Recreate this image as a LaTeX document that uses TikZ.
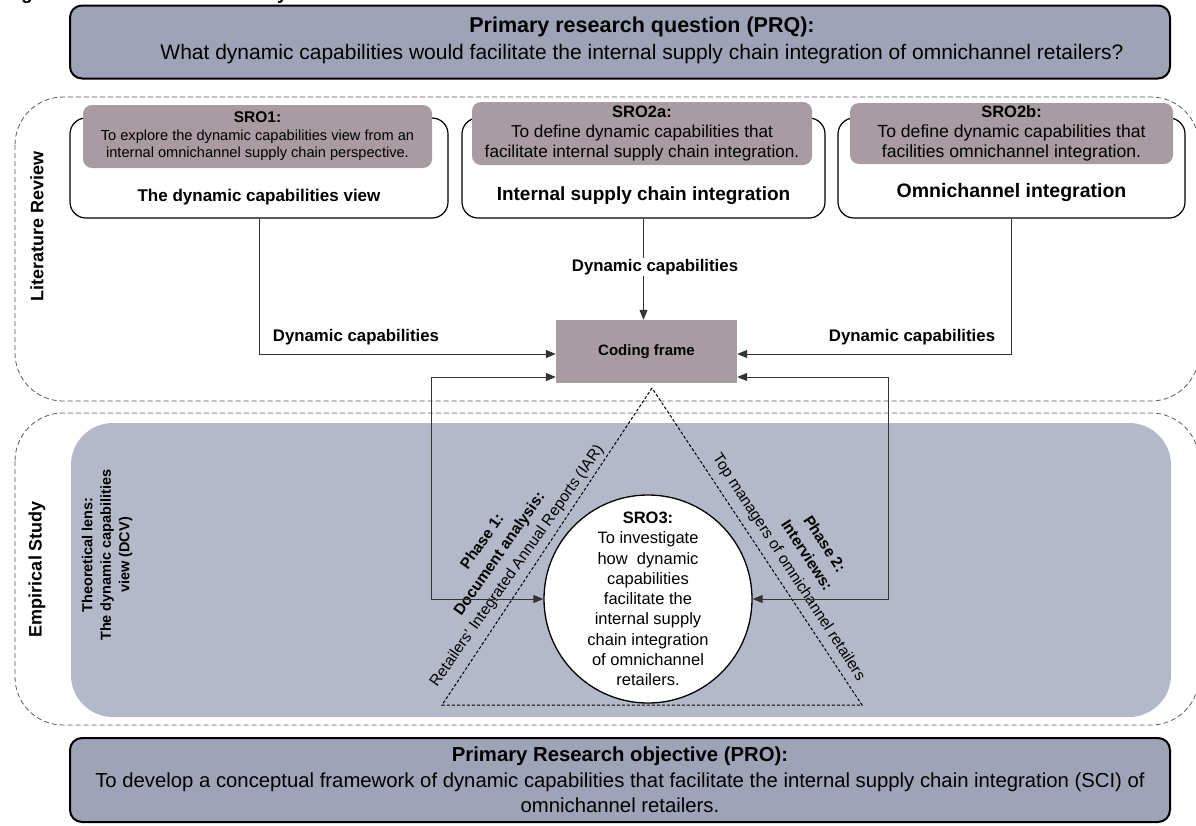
\documentclass[tikz,border=0pt]{standalone}
\usepackage{fontspec}
\setmainfont{Liberation Sans}
\usetikzlibrary{arrows.meta}
\definecolor{headfill}{RGB}{158,163,183}
\definecolor{studyfill}{RGB}{180,185,201}
\definecolor{srofill}{RGB}{168,155,162}
\newcommand\fsz[2]{\fontsize{#1}{#2}\selectfont}
\tikzset{
  headbox/.style={draw, line width=2pt, rounded corners=12pt, fill=headfill, align=center, inner sep=0pt},
  topicbox/.style={draw, line width=1.2pt, rounded corners=16pt, fill=white, inner sep=0pt},
  srobox/.style={fill=srofill, rounded corners=9pt, align=center, inner sep=0pt},
  region/.style={draw=black!65, dash pattern=on 5pt off 3pt, line width=0.8pt, rounded corners=48pt},
  link/.style={draw=black!80, line width=1pt},
  tip/.style={-{Triangle[length=10pt,width=8pt]}},
  bothtips/.style={{Triangle[length=10pt,width=8pt]}-{Triangle[length=10pt,width=8pt]}},
  linklabel/.style={font=\bfseries\fsz{16.8}{19}, inner sep=1pt},
  sidelabel/.style={rotate=90, font=\bfseries\fsz{18}{20}, inner sep=0pt},
  phasetext/.style={align=center, inner sep=0pt, font=\fsz{15.5}{21}},
  topictitle/.style={font=\bfseries\fsz{#1}{21}, inner sep=0pt},
  topictitle/.default=17
}
\begin{document}
\begin{tikzpicture}[x=1pt,y=-1pt]
\useasboundingbox (0,0) rectangle (1196,825);

% caption line above the figure, mostly trimmed by the page edge
\begin{scope}
  \clip (0,0) rectangle (1196,4);
  \node[anchor=base west, inner sep=0pt, font=\bfseries\fsz{19}{22}] (cap) at (4,-0.5) {Figure 1.1: Outline of the Study};
\end{scope}

% the two study phases
\draw[region] (15,97) rectangle (1199,401);
\draw[region] (15,413) rectangle (1199,725);
\fill[studyfill, rounded corners=42pt] (71,423) rectangle (1171,717);

% research question and objective
\node[headbox, minimum width=1100pt, minimum height=73pt] (prq) at (620,42) {};
\node[align=center, inner sep=0pt, font=\fsz{21}{27}] (prqt) at (642,40)
  {\textbf{\fsz{21.5}{27}Primary research question (PRQ):}\\What dynamic capabilities would facilitate the internal supply chain integration of omnichannel retailers?};
\node[headbox, minimum width=1100pt, minimum height=84pt, font=\fsz{20.3}{25.5}] (pro) at (620,780)
  {\textbf{Primary Research objective (PRO):}\\To develop a conceptual framework of dynamic capabilities that facilitate the internal supply chain integration (SCI) of\\omnichannel retailers.};

% literature topics
\node[topicbox, minimum width=378pt, minimum height=100pt] (dcv) at (259,168) {};
\node[topicbox, minimum width=363pt, minimum height=100pt] (isc) at (643.5,168) {};
\node[topicbox, minimum width=347pt, minimum height=100pt] (omni) at (1011.5,168) {};

\node[srobox, minimum width=349pt, minimum height=63pt, font=\fsz{14.6}{17.5}] (sro1) at (257.5,136.5)
  {\textbf{\fsz{15.5}{17.5}SRO1:}\\To explore the dynamic capabilities view from an\\internal omnichannel supply chain perspective.};
\node[srobox, minimum width=340pt, minimum height=63pt, font=\fsz{17.2}{20}] (sro2a) at (642,133.5)
  {\textbf{\fsz{16.5}{20}SRO2a:}\\To define dynamic capabilities that\\facilitate internal supply chain integration.};
\node[srobox, minimum width=323pt, minimum height=61pt, font=\fsz{17.6}{20}] (sro2b) at (1011.5,133.5)
  {\textbf{\fsz{16.5}{20}SRO2b:}\\To define dynamic capabilities that\\facilities omnichannel integration.};

\node[topictitle=17] (dcvt) at (259,197) {The dynamic capabilities view};
\node[topictitle=19] (isct) at (643.5,196) {Internal supply chain integration};
\node[topictitle=19.5] (omnit) at (1011.5,192) {Omnichannel integration};

% coding frame
\node[fill=srofill, minimum width=181pt, minimum height=63pt, inner sep=0pt, font=\bfseries\fsz{15}{18}] (cf) at (646.5,351.5) {Coding frame};

% empirical triangle and SRO3
\draw[dash pattern=on 3pt off 2pt, line width=1pt] (652,388) -- (442,705) -- (862,705) -- cycle;
\node[circle, draw, line width=1.3pt, fill=white, minimum size=208pt, inner sep=0pt] (sro3) at (648,599) {};
\node[align=center, inner sep=0pt, font=\fsz{16.5}{20.3}] (sro3t) at (sro3.center)
  {\textbf{SRO3:}\\To investigate\\how\ \ dynamic\\capabilities\\facilitate the\\internal supply\\chain integration\\of omnichannel\\retailers.};

\node[phasetext, rotate=55] (ph1) at (500,554)
  {\textbf{Phase 1:}\\\textbf{Document analysis:}\\Retailers’ Integrated Annual Reports (IAR)};
\node[phasetext, rotate=-57] (ph2) at (806,556)
  {\textbf{Phase 2:}\\\textbf{Interviews:}\\Top managers of omnichannel retailers};

\node[rotate=90, align=center, inner sep=0pt, font=\bfseries\fsz{14.5}{18.5}] (lens) at (107,555)
  {Theoretical lens:\\The dynamic capabilities\\view (DCV)};

\node[sidelabel] (litl) at (37,226) {Literature Review};
\node[sidelabel] (empl) at (37,569) {Empirical Study};

% connectors
\draw[link, tip] (dcv.south) |- ([yshift=-2.5pt]cf.west);
\draw[link, tip] (isc.south) -- (isc.south |- cf.north);
\draw[link, tip] (omni.south) |- ([yshift=-2.5pt]cf.east);
\draw[link, bothtips] ([yshift=-25.5pt]cf.west) -| (431,599) -- (sro3.west);
\draw[link, bothtips] ([yshift=-25.5pt]cf.east) -| (888,599) -- (sro3.east);

\node[linklabel] (dc1) at (356,337) {Dynamic capabilities};
\node[linklabel, fill=white] (dc2) at (655,267) {Dynamic capabilities};
\node[linklabel] (dc3) at (912,337) {Dynamic capabilities};
\end{tikzpicture}
\end{document}
